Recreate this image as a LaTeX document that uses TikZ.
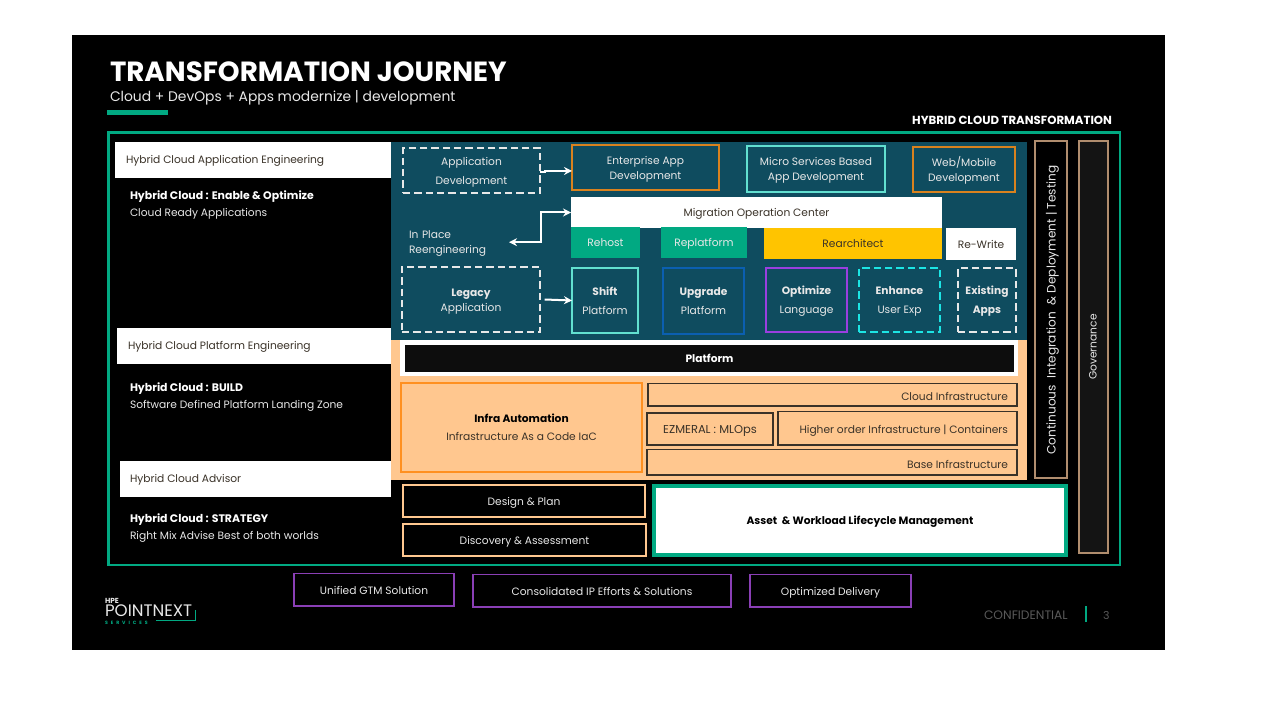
\documentclass[tikz,border=0pt]{standalone}
\usepackage{fontspec}
\setmainfont{Poppins}
\usetikzlibrary{arrows.meta}
\definecolor{teal}{HTML}{0F4C5F}
\definecolor{peach}{HTML}{FFC78F}
\definecolor{hpegreen}{HTML}{01A982}
\definecolor{mint}{HTML}{62E0D0}
\definecolor{tan}{HTML}{B08D6E}
\definecolor{gold}{HTML}{FFC400}
\definecolor{aqua}{HTML}{1CE5E5}
\definecolor{softwhite}{HTML}{E8E8E8}
\definecolor{dk}{HTML}{3A3228}
\definecolor{amber}{HTML}{D9821E}
\definecolor{flame}{HTML}{FF9020}
\definecolor{royal}{HTML}{0B5FB0}
\definecolor{violetb}{HTML}{9A3FE0}
\definecolor{plum}{HTML}{8A3FB5}
\newcommand{\bx}[7][]{\node[box,#1,minimum width={(#5-#3)*0.75pt},minimum height={(#6-#4)*0.75pt}] (#2) at ({(#3+#5)/2},{(#4+#6)/2}) {\rule{0pt}{9pt}#7\rule[-2.5pt]{0pt}{2.5pt}};}
\tikzset{
 box/.style={rectangle,inner sep=0pt,outer sep=0pt,align=center,font=\fontsize{8pt}{11.4pt}\selectfont},
 wt/.style={text=softwhite},
 dk/.style={text=dk},
 dash box/.style={draw=#1,line width=1.6pt,dash pattern=on 5.5pt off 3pt},
 frame/.style={draw=#1,line width=1.8pt},
 lab/.style={inner sep=0pt,outer sep=0pt,anchor=west,yshift=-1.5pt,text=softwhite,font=\fontsize{8pt}{11pt}\selectfont},
 labb/.style={lab,font=\fontsize{8.2pt}{11pt}\selectfont\bfseries,text=white},
 conn/.style={draw=white,line width=1.5pt,-{Stealth[length=6pt,width=6pt]}},
}
\begin{document}
\begin{tikzpicture}[x=0.75pt,y=-0.75pt]
\useasboundingbox (0,0) rectangle (1280,720);
\fill[white] (0,0) rectangle (1280,720);
\fill[black] (72,35) rectangle (1165,650);
% title
\node[lab,text=white,font=\fontsize{20.8pt}{24pt}\selectfont\bfseries] (title) at (110,70) {TRANSFORMATION JOURNEY};
\node[lab,font=\fontsize{10.4pt}{14pt}\selectfont] (sub) at (110,96) {Cloud + DevOps + Apps modernize | development};
\fill[hpegreen] (107,110.5) rectangle (168,115.5);
\node[labb,anchor=east,font=\fontsize{8.8pt}{10pt}\selectfont\bfseries] (hct) at (1112,118) {HYBRID CLOUD TRANSFORMATION};
% outer frame
\bx[draw=hpegreen,line width=2.2pt]{outer}{108.5}{132.5}{1120}{565}{}
% panels
\bx[fill=teal]{tealp}{391}{142}{1027}{342}{}
\bx[fill=peach]{peachp}{391}{340}{1027}{480}{}
% left column
\bx[fill=white]{h1}{115}{142}{391}{178}{}
\bx[fill=white]{h2}{117}{328}{391}{364}{}
\bx[fill=white]{h3}{120}{461}{391}{497}{}
\node[lab,text=dk] (h1t) at (126,158.5) {Hybrid Cloud Application Engineering};
\node[lab,text=dk] (h2t) at (128,344.5) {Hybrid Cloud Platform Engineering};
\node[lab,text=dk] (h3t) at (130,477.5) {Hybrid Cloud Advisor};
\node[labb] (l1a) at (130,194.5) {Hybrid Cloud : Enable \& Optimize};
\node[lab] (l1b) at (130,211.5) {Cloud Ready Applications};
\node[labb] (l2a) at (130,386.5) {Hybrid Cloud : BUILD};
\node[lab] (l2b) at (130,403.5) {Software Defined Platform Landing Zone};
\node[labb] (l3a) at (130,517.5) {Hybrid Cloud : STRATEGY};
\node[lab] (l3b) at (130,534.5) {Right Mix Advise Best of both worlds};
% top row
\bx[wt,dash box=softwhite]{appdev}{403}{148}{540}{193}{Application\\[3pt]Development}
\bx[wt,frame=amber]{ent}{572}{145}{719}{190}{Enterprise App\\Development}
\bx[wt,frame=mint]{micro}{747}{146}{885}{192}{Micro Services Based\\App Development}
\bx[wt,frame=amber]{web}{913}{147}{1015}{192}{Web/Mobile\\Development}
% migration
\bx[fill=white,dk]{mig}{571}{197}{942}{228}{Migration Operation Center}
\bx[fill=hpegreen,wt]{rehost}{571}{227}{640}{258}{Rehost}
\bx[fill=hpegreen,wt]{replat}{661}{227}{747}{258}{Replatform}
\bx[fill=gold,dk]{rearch}{764}{228}{942}{259}{Rearchitect}
\bx[fill=white,dk]{rewrite}{946}{228}{1016}{260}{Re-Write}
\node[lab,align=left,text width=75pt] (inplace) at (409,241.5) {In Place\\[0.5pt]Reengineering};
% lower row
\bx[wt,dash box=softwhite]{legacy}{402}{267}{540}{332}{\textbf{Legacy}\\Application}
\bx[wt,frame=mint]{shiftb}{572}{268}{638}{333}{\textbf{Shift}\\[3pt]Platform}
\bx[wt,frame=royal]{upgrade}{663}{268}{744}{334}{\textbf{Upgrade}\\[3pt]Platform}
\bx[wt,frame=violetb]{optimize}{766}{268}{847}{332}{\textbf{Optimize}\\[3pt]Language}
\bx[wt,dash box=aqua]{enhance}{859}{268}{940}{332}{\textbf{Enhance}\\[3pt]User Exp}
\bx[wt,dash box=softwhite]{existing}{958}{268}{1016}{332}{\textbf{Existing}\\[3pt]\textbf{Apps}}
% platform
\bx[fill=white]{platw}{400}{340}{1018}{376}{}
\bx[fill=black!95!white,text=white]{plat}{405}{345}{1014}{372}{\textbf{Platform}}
% infra
\bx[text=dk,frame=flame]{infra}{401}{383}{642}{472}{\textbf{\textcolor{black}{Infra Automation}}\\[2pt]Infrastructure As a Code IaC}
\tikzset{brn/.style={draw=dk,line width=1.2pt}}
\bx[brn]{cloud}{648}{383.5}{1017}{406}{}
\bx[brn,font=\fontsize{8.6pt}{11pt}\selectfont]{ezm}{647}{413}{773}{445}{\textcolor{dk}{EZMERAL : MLOps}}
\bx[brn]{higher}{778}{411.5}{1017}{445}{}
\bx[brn]{base}{647}{449.5}{1017}{475}{}
\node[lab,text=dk,anchor=east] (cloudt) at (1008,394.5) {Cloud Infrastructure};
\node[lab,text=dk,anchor=east] (highert) at (1008,428.5) {Higher order Infrastructure | Containers};
\node[lab,text=dk,anchor=east] (baset) at (1008,462.5) {Base Infrastructure};
% bottom
\bx[wt,draw=peach,line width=2pt]{design}{403}{485}{645}{517}{Design \& Plan}
\bx[wt,draw=peach,line width=2pt]{discovery}{403}{524}{646}{556}{Discovery \& Assessment}
\bx[fill=white,draw=hpegreen,line width=3pt,text=black]{asset}{654}{486}{1066}{555}{\textbf{Asset\ \ \& Workload Lifecycle Management}}
% verticals
\bx[draw=tan,line width=1.5pt,fill=black]{ci}{1035}{141.5}{1067}{478}{}
\bx[draw=tan,line width=1.5pt,fill=black!92!white]{gov}{1078.5}{141.5}{1107.5}{553}{}
\node[box,rotate=90,text=softwhite,font=\fontsize{9.1pt}{11pt}\selectfont] (cit) at (1052.5,310) {Continuous\ \ Integration\ \ \& Deployment | Testing};
\node[box,rotate=90,text=softwhite] (govt) at (1093,347) {Governance};
% bottom strip
\tikzset{pur/.style={draw=plum,line width=1.2pt,text=softwhite}}
\bx[pur]{gtm}{294}{573.5}{454}{606}{Unified GTM Solution}
\bx[pur]{ip}{473}{574.5}{731}{607}{Consolidated IP Efforts \& Solutions}
\bx[pur]{deliv}{750}{574.5}{911}{607}{Optimized Delivery}
% logo
\node[lab,text=softwhite,font=\fontsize{5.5pt}{6pt}\selectfont\bfseries] (lhpe) at (105,599) {HPE};
\node[lab,text=softwhite,font=\fontsize{12.5pt}{13pt}\selectfont] (lpn) at (105,608.5) {POINTNEXT};
\node[lab,text=hpegreen,font=\fontsize{3.5pt}{4pt}\selectfont\bfseries] (lsv) at (105,620.5) {S\hspace{2.2pt}E\hspace{2.2pt}R\hspace{2.2pt}V\hspace{2.2pt}I\hspace{2.2pt}C\hspace{2.2pt}E\hspace{2.2pt}S};
\draw[hpegreen,line width=0.7pt] (156,620) -- (195,620) -- (195,610);
\node[lab,text=black!65!white,font=\fontsize{9.2pt}{10pt}\selectfont] (conf) at (984,613.5) {CONFIDENTIAL};
\fill[hpegreen] (1084.5,606) rectangle (1086.5,622);
\node[lab,text=black!65!white,font=\fontsize{8.2pt}{10pt}\selectfont] (pnum) at (1103,613.5) {3};
% connectors
\draw[conn] ([yshift=-1.5pt]appdev.east) -- ++(5,0) |- ([yshift=-2.6pt]ent.west);
\draw[conn,{Stealth[length=6pt,width=6pt]}-{Stealth[length=6pt,width=6pt]}] ([yshift=1pt]inplace.east) -- ++(32,0) |- (mig.west);
\draw[conn] ([xshift=3.5pt]legacy.east) -- (shiftb.west);
\end{tikzpicture}
\end{document}
